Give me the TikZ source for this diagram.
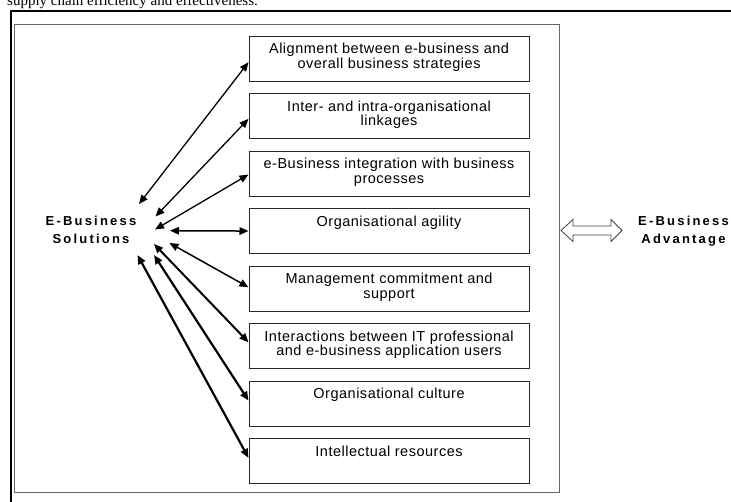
\documentclass[tikz,border=0pt]{standalone}
\usepackage{fontspec}
\setmainfont{Liberation Sans}
\newfontfamily\serifbody{Liberation Serif}
\newfontfamily\tracked[LetterSpace=17]{Liberation Sans}
\newfontfamily\boxface[LetterSpace=3.5]{Liberation Sans}
\usetikzlibrary{arrows.meta}

% tight leading for the factor texts
\newcommand\factorfont{\boxface\fontsize{14.5}{14.4}\selectfont\setlength\lineskiplimit{-20pt}\relax}
\newcommand\sidefont{\tracked\bfseries\fontsize{13}{17.3}\selectfont}

\tikzset{
  factor/.style={draw=black!85, line width=1.1pt, minimum width=280pt,
    minimum height=45pt, inner sep=0pt, anchor=north west},
  ftext/.style={font=\factorfont, align=center, inner sep=0pt, anchor=north},
  sidelabel/.style={font=\sidefont, align=center, inner sep=0pt, anchor=north},
  link/.style={{Triangle[length=9pt,width=7.5pt]}-{Triangle[length=9pt,width=7.5pt]},
    line width=#1},
  link/.default=1.3pt,
  panel/.style={draw=black!60, line width=1.3pt},
}

\begin{document}
\begin{tikzpicture}[x=1pt,y=-1pt]
\useasboundingbox (0,0) rectangle (731,501);
\clip (0,0) rectangle (731,501);

% running text of the page above the figure
\node[anchor=base west, inner sep=0pt] (pagetext) at (7,5.5)
  {\serifbody\fontsize{15}{18}\selectfont supply chain efficiency and effectiveness.};

% outer page frame
\draw[line width=2.4pt] (11.2,520) -- (11.2,10.4);
\draw[line width=1.8pt] (10,11.3) -- (760,11.3);

% figure panel
\draw[panel] (14.3,24.3) rectangle (559.8,492.7);

% factor boxes
\foreach \i in {1,...,8}
  \node[factor] (b\i) at (248.5,{35.5+57.5*(\i-1)}) {};

\node[ftext] (t1) at ([yshift=-7.5pt]b1.north) {Alignment between e-business and\\overall business strategies};
\node[ftext] (t2) at ([yshift=-7.5pt]b2.north) {Inter- and intra-organisational\\linkages};
\node[ftext] (t3) at ([yshift=-7.5pt]b3.north) {e-Business integration with business\\processes};
\node[ftext] (t4) at ([yshift=-7.5pt]b4.north) {Organisational agility};
\node[ftext] (t5) at ([yshift=-7.5pt]b5.north) {Management commitment and\\support};
\node[ftext] (t6) at ([yshift=-7.5pt]b6.north) {Interactions between IT professional\\and e-business application users};
\node[ftext] (t7) at ([yshift=-7.5pt]b7.north) {Organisational culture};
\node[ftext] (t8) at ([yshift=-7.5pt]b8.north) {Intellectual resources};

% side labels
\node[sidelabel] (sol) at (91,216.3) {E-Business\\Solutions};
\node[sidelabel] (adv) at (683.5,216.3) {E-Business\\Advantage};

% arrow ends beside the solutions label
\coordinate (s1) at (139,204);
\coordinate (s2) at (155.5,216.5);
\coordinate (s3) at (155,229.5);
\coordinate (s4) at (170,230.7);
\coordinate (s5) at (169.5,243);
\coordinate (s6) at (154,244);
\coordinate (s7) at (154,255);
\coordinate (s8) at (137.5,255);

\draw[link] (s1) -- ([yshift=-3.7pt]b1.west);
\draw[link] (s2) -- ([yshift=-2.8pt]b2.west);
\draw[link] (s3) -- ([yshift=-1pt]b3.west);
\draw[link=1.5pt] (s4) -- (b4.west);
\draw[link=1.5pt] (s5) -- ([yshift=1.3pt]b5.west);
\draw[link=2pt] (s6) -- ([yshift=3.8pt]b6.west);
\draw[link=2.2pt] (s7) -- ([yshift=3pt]b7.west);
\draw[link=2.2pt] (s8) -- ([yshift=3.2pt]b8.west);

% hollow two-way arrow between panel and advantage
\draw[draw=black!75, line width=0.8pt, fill=white]
  (561,230.5) -- (573,219.5) -- (573,226) -- (611,226) -- (611,219.5)
  -- (622,230.5) -- (611,241.5) -- (611,235) -- (573,235) -- (573,241.5) -- cycle;
\end{tikzpicture}
\end{document}
